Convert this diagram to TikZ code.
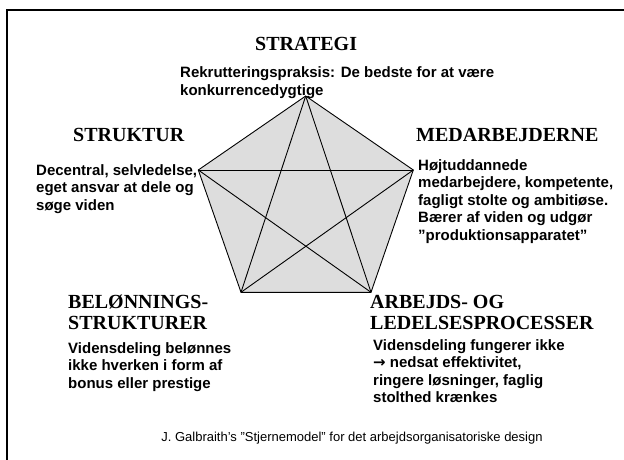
\documentclass[tikz,border=0pt]{standalone}
\usepackage{fontspec}
\setmainfont{Liberation Serif}
\setsansfont{Liberation Sans}
\newfontfamily\arrowfont{DejaVu Sans}
\definecolor{pentafill}{RGB}{221,221,221}
\begin{document}
\begin{tikzpicture}[x=1pt,y=-1pt,
  heading/.style={font=\rmfamily\bfseries\fontsize{20}{21}\selectfont, inner sep=0pt, anchor=base west, align=left},
  bodytext/.style={font=\sffamily\bfseries\fontsize{15}{17.5}\selectfont, inner sep=0pt, anchor=base west, align=left},
  caption/.style={font=\sffamily\fontsize{13}{15}\selectfont, inner sep=0pt, anchor=base},
  starline/.style={draw=black, line width=0.9pt},
  frame/.style={draw=black, line width=2.2pt}]
\useasboundingbox (0,0) rectangle (624,460);
\fill[white] (0,0) rectangle (624,460);
\draw[frame] (7,470) -- (7,10) -- (634,10);

% pentagon vertices
\coordinate (top) at (305.7,96);
\coordinate (left) at (198.3,170);
\coordinate (right) at (413.3,170);
\coordinate (bl) at (241,292.3);
\coordinate (br) at (371,292.3);

\filldraw[fill=pentafill, starline, line join=miter] (top) -- (right) -- (br) -- (bl) -- (left) -- cycle;
\draw[starline] (top) -- (bl);
\draw[starline] (top) -- (br);
\draw[starline] (left) -- (right);
\draw[starline] (left) -- (br);
\draw[starline] (right) -- (bl);

% headings (base anchor = baseline of last line)
\node[heading] (hstrat) at (255,51) {STRATEGI};
\node[heading] (hstruk) at (73,141.6) {STRUKTUR};
\node[heading] (hmed) at (416,141.6) {MEDARBEJDERNE};
\node[heading] (hbel) at (68,329.6) {BELØNNINGS-\\STRUKTURER};
\node[heading] (harb) at (370,329.6) {ARBEJDS- OG\\LEDELSESPROCESSER};

% body texts
\node[bodytext] (tstrat) at (180,95.5) {Rekrutteringspraksis: De bedste for at være\\konkurrencedygtige};
\node[bodytext] (tstruk) at (36,210) {Decentral, selvledelse,\\eget ansvar at dele og\\søge viden};
\node[bodytext] (tmed) at (418,240) {Højtuddannede\\medarbejdere, kompetente,\\fagligt stolte og ambitiøse.\\Bærer af viden og udgør\\”produktionsapparatet”};
\node[bodytext] (tbel) at (68,388) {Vidensdeling belønnes\\ikke hverken i form af\\bonus eller prestige};
\node[bodytext] (tarb) at (373,402.5) {Vidensdeling fungerer ikke\\{\arrowfont\bfseries →} nedsat effektivitet,\\ringere løsninger, faglig\\stolthed krænkes};

% caption
\node[caption] (cap) at (352,441.5) {J. Galbraith’s "Stjernemodel" for det arbejdsorganisatoriske design};
\end{tikzpicture}
\end{document}
